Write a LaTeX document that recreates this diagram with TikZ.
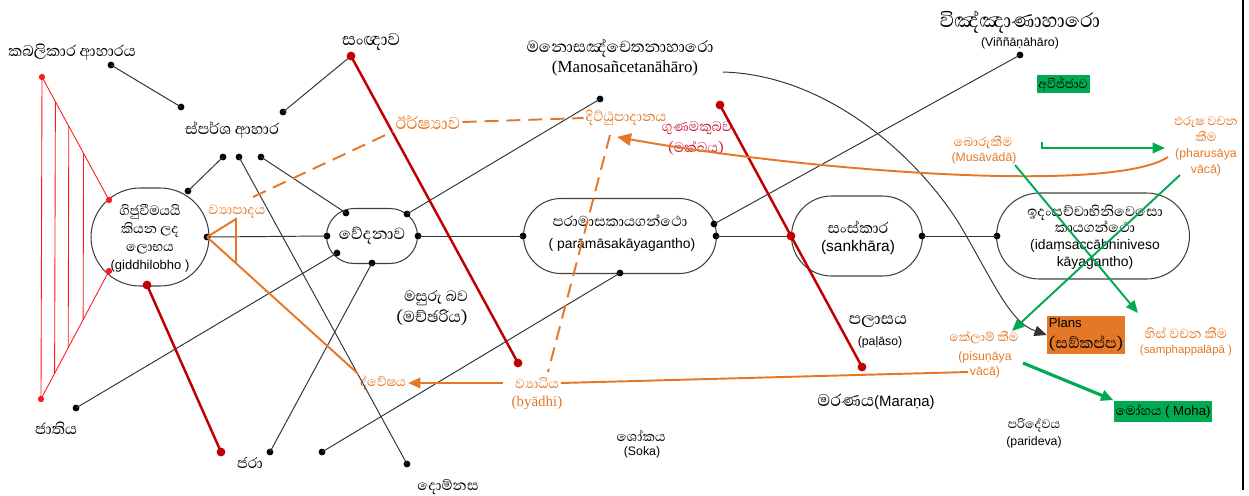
\documentclass[tikz,border=0pt]{standalone}
\usepackage{fontspec}
\setmainfont{Liberation Sans}
\newfontfamily\sinhala[Script=Sinhala]{Abhaya Libre}
\newfontfamily\tms{Liberation Serif}
\usetikzlibrary{shapes.misc,arrows.meta,calc}
\definecolor{orng}{RGB}{228,120,38}
\definecolor{grn}{RGB}{0,170,80}
\definecolor{dred}{RGB}{192,0,0}
\definecolor{crim}{RGB}{205,25,60}
\definecolor{lred}{RGB}{255,25,25}
\newcommand{\sfs}[1]{\sinhala\fontsize{#1}{#1}\selectfont}
\tikzset{
  blob/.style={rounded rectangle, draw=black!75, line width=0.6pt, inner sep=0pt},
  si/.style={font=\sfs{11.2}, inner sep=1pt},
  sio/.style={font=\sfs{9.5}, text=orng, inner sep=1pt},
  la/.style={font=\fontsize{7}{8}\selectfont, inner sep=1pt},
  lao/.style={la, text=orng},
  ln/.style={draw=black!80, line width=0.55pt},
  rln/.style={draw=dred, line width=1.4pt},
  tln/.style={draw=lred, line width=0.5pt},
  oln/.style={draw=orng, line width=1.1pt},
  odash/.style={oln, dash pattern=on 8pt off 4.5pt},
  gln/.style={draw=grn, line width=1.1pt, -{Triangle[length=7pt,width=6pt]}},
  box/.style={inner sep=1pt, minimum height=0.34cm},
}

\begin{document}
\begin{tikzpicture}[x=0.02cm, y=-0.02cm]
\useasboundingbox (0,0) rectangle (1249,495);

% shapes on the middle line
\node[blob, minimum width=2.36cm, minimum height=1.96cm] (gid) at (150,237) {};
\node[blob, minimum width=1.82cm, minimum height=1.10cm] (ved) at (372,236) {};
\node[blob, minimum width=3.86cm, minimum height=1.50cm] (para) at (620,236) {};
\node[blob, minimum width=2.62cm, minimum height=1.60cm] (sank) at (857,236) {};
\node[blob, minimum width=3.86cm, minimum height=1.72cm] (idam) at (1093,236) {};

\node[align=center, inner sep=0pt, font=\sinhala\fontsize{9.8}{10.2}\selectfont] (gidt) at (150,238)
  {ගිජුවීමයයි\\කියන ලද\\ලොභය\\\normalfont\fontsize{7.4}{9}\selectfont(giddhilobho )};
\node[si, font=\sfs{11.7}] (vedt) at (372,236) {වේදනාව};
\node[si, font=\sfs{10.4}] (parat) at (620,221) {පරාමාසකායගන්ථො};
\node[la, font=\fontsize{7.9}{9}\selectfont] (paral) at (622,245) {( parāmāsakāyagantho)};
\node[si, font=\sfs{11}] (sankt) at (858,227) {සංස්කාර};
\node[la, font=\fontsize{8.8}{10}\selectfont] (sankl) at (858,247) {(sankhāra)};
\node[align=center, inner sep=0pt, font=\sinhala\fontsize{10.2}{9.5}\selectfont] (idamt) at (1095,237)
  {ඉදංසච්චාභිනිවෙසො\\කායගන්ථො\\\normalfont\fontsize{7.9}{9.5}\selectfont(idaṃsaccābhiniveso\\\normalfont\fontsize{7.9}{9.5}\selectfont kāyagantho)};

% labels
\node[si] (kab) at (72,52) {කබලිකාර ආහාරය};
\node[si] (spa) at (232,130) {ස්පර්ශ ආහාර};
\node[si, font=\sfs{12.5}] (san) at (371,42) {සංඥාව};
\node[si, font=\sfs{11.7}] (mano) at (620,48) {මනොසඤ්චෙතනාහාරො};
\node[la, font=\tms\fontsize{9.6}{11}\selectfont] (manol) at (625,68) {(Manosañcetanāhāro)};
\node[si, font=\sfs{14.4}] (vin) at (1020,22) {විඤ්ඤාණාහාරො};
\node[la] (vinl) at (1020,43) {(Viññāṇāhāro)};
\node[box, fill=grn, minimum width=1.06cm, font=\sfs{9}] (avi) at (1063,84) {අවිජ්ජාව};
\node[sio, font=\sfs{12.5}] (irs) at (428,122) {ඊර්ෂ්‍යාව};
\node[sio, font=\sfs{10}] (dit) at (626,118) {දිට්ඨුපාදානය};
\node[si, text=crim, font=\sfs{10}] (guna) at (697,128) {ගුණමකුබව};
\node[si, text=crim, font=\sfs{10}] (gunal) at (696,148) {(මක්ඛය)};
\node[sio, font=\sfs{9.3}] (boru) at (983,142) {බොරුකීම};
\node[lao] (borul) at (984,158) {(Musāvādā)};
\node[lao, align=center, font=\fontsize{7}{9.2}\selectfont] (pharu) at (1206,146)
  {{\sfs{9}ඵරුෂ වචන}\\{\sfs{9}කීම}\\(pharusāya\\vācā)};
\node[sio, font=\sfs{9.8}] (vyap) at (237,212) {ව්‍යාපාදය};
\node[si, font=\sfs{10.8}] (masu) at (436,298) {මසුරු බව};
\node[si, font=\sfs{11.5}] (masul) at (432,318) {(මච්ඡරිය)};
\node[si, font=\sfs{12}] (pala) at (878,322) {පලාසය};
\node[la] (palal) at (880,342) {(paḷāso)};
\node[fill=orng, align=left, inner sep=1pt, minimum width=1.54cm, minimum height=0.68cm] (plans) at (1086,335)
  {{\fontsize{7.5}{8}\selectfont Plans}\\{\sfs{11.2}(සඞ්කප්ප)}};
\node[sio, font=\sfs{9.6}] (his) at (1186,333) {හිස් වචන කීම};
\node[lao, font=\fontsize{6.5}{8}\selectfont] (hisl) at (1186,351) {(samphappalāpā )};
\node[sio, font=\sfs{9}] (kel) at (984,338) {කේලාම් කීම};
\node[lao, align=center, font=\fontsize{7}{8.8}\selectfont] (kell) at (985,365) {(pisuṇāya\\vācā)};
\node[sio, font=\sfs{9.4}] (dve) at (383,383) {ද්වේෂය};
\node[si, text=orng, font=\sfs{9.6}] (vya) at (537,383) {ව්‍යාධිය};
\node[lao, font=\tms\fontsize{8.5}{9}\selectfont] (vyal) at (537,403) {(byādhi)};
\node[si, font=\fontsize{8.5}{10}\selectfont] (mara) at (876,402) {{\sfs{12.3}මරණය}(Maraṇa)};
\node[box, fill=grn, minimum width=1.92cm, minimum height=0.42cm, font=\fontsize{7.5}{8}\selectfont] (moha) at (1163,411) {{\sfs{9.5}මෝහය} ( Moha)};
\node[si, font=\sfs{9.8}] (soka) at (641,436) {ශෝකය};
\node[la] (sokal) at (642,452) {(Soka)};
\node[si, font=\sfs{9}] (pari) at (1034,425) {පරිදේවය};
\node[la] (paril) at (1034,442) {(parideva)};
\node[si] (jati) at (56,428) {ජාතිය};
\node[si, font=\sfs{10.8}] (jara) at (250,463) {ජරා};
\node[si, font=\sfs{10.4}] (dom) at (448,487) {දොම්නස};

% black dots
\filldraw[black] (111,65) circle (1.7pt) coordinate (kd);
\filldraw[black] (181,107) circle (1.7pt) coordinate (sd1);
\filldraw[black] (283,112) circle (1.7pt) coordinate (sd2);
\filldraw[black] (223,157) circle (1.7pt) coordinate (p1);
\filldraw[black] (239,157) circle (1.7pt) coordinate (p2);
\filldraw[black] (261,157) circle (1.7pt) coordinate (p3);
\filldraw[black] (188,191) circle (1.7pt) coordinate (g1);
\filldraw[black] (207,237) circle (1.7pt) coordinate (g2);
\filldraw[black] (346,213) circle (1.7pt) coordinate (v1);
\filldraw[black] (407,214) circle (1.7pt) coordinate (v2);
\filldraw[black] (327,236) circle (1.7pt) coordinate (v3);
\filldraw[black] (418,236) circle (1.7pt) coordinate (v4);
\filldraw[black] (337,253) circle (1.7pt) coordinate (v5);
\filldraw[black] (372,263) circle (1.7pt) coordinate (v6);
\filldraw[black] (600,99) circle (1.7pt) coordinate (md);
\filldraw[black] (523,236) circle (1.7pt) coordinate (r1);
\filldraw[black] (714,224) circle (1.7pt) coordinate (r2);
\filldraw[black] (716,236) circle (1.7pt) coordinate (r3);
\filldraw[black] (620,273) circle (1.7pt) coordinate (r4);
\filldraw[black] (1020,55) circle (1.7pt) coordinate (vd);
\filldraw[black] (922,236) circle (1.7pt) coordinate (s2);
\filldraw[black] (997,236) circle (1.7pt) coordinate (i1);
\filldraw[black] (76,408) circle (1.7pt) coordinate (jd);
\filldraw[black] (270,452) circle (1.7pt) coordinate (jrd);
\filldraw[black] (407,464) circle (1.7pt) coordinate (dd);
\filldraw[black] (322,452) circle (1.7pt) coordinate (sd);

% black lines
\draw[ln] (kd) -- (sd1);
\draw[ln] (sd2) -- (351,56) coordinate (sr);
\draw[ln] (p1) -- (g1);
\draw[ln] (p3) -- (v1);
\draw[ln] (p2) -- (dd);
\draw[ln] (g2) -- (v3);
\draw[ln] (v4) -- (r1);
\draw[ln] (r3) -- (791,236) coordinate (s1);
\draw[ln] (s2) -- (i1);
\draw[ln] (v2) -- (md);
\draw[ln] (r2) -- (vd);
\draw[ln] (v5) -- (jd);
\draw[ln] (v6) -- (jrd);
\draw[ln] (r4) -- (sd);
\draw[ln, -{Triangle[length=7pt,width=6pt]}] (723,72) .. controls (830,75) and (920,160) .. (960,225)
  .. controls (995,285) and (1010,322) .. (plans.west);

% red lines
\coordinate (vr) at (518,363);
\coordinate (mr) at (720,105);
\coordinate (pr) at (862,367);
\coordinate (gr) at (147,285);
\coordinate (jr) at (221,452);
\draw[rln] (sr) -- (vr);
\draw[rln] (mr) -- (pr);
\draw[rln] (gr) -- (jr);
\foreach \c in {sr,vr,mr,s1,pr,gr,jr} \fill[dred] (\c) circle (2.5pt);

\coordinate (lr1) at (42,77);
\coordinate (lr2) at (109,200);
\coordinate (lr3) at (109,271);
\coordinate (lr4) at (41,399);
\draw[tln] (lr1) -- (lr2);
\draw[tln] (lr3) -- (lr4);
\draw[tln] (lr1) -- (lr4);
\foreach \t in {0.2,0.4,0.62} \draw[tln] ($(lr1)!\t!(lr2)$) -- ($(lr4)!\t!(lr3)$);
\foreach \c in {lr1,lr2,lr3,lr4} \fill[lred] (\c) circle (1.8pt);

% orange
\draw[oln] (g2) -- (236,219) coordinate (o1) -- (236,262) coordinate (o2);
\draw[oln] (g2) -- (dve.north west);
\draw[oln, -{Triangle[length=7pt,width=6pt]}, shorten <=6pt] (vya.west) -- (dve.east);
\draw[oln] (vya.east) -- (968,372) coordinate (ke);
\draw[odash] (253,197) coordinate (vd1) -- (irs.south west);
\draw[odash] (irs.east) -- (dit.west);
\draw[odash] (610,135) coordinate (dd1) -- (548,372) coordinate (vd2);
\draw[oln, -{Triangle[length=8pt,width=7pt]}] (1168,157) coordinate (ph1) .. controls (1110,195) and (800,170) .. (617,137);

% green
\draw[gln] (1042,142) coordinate (ga) -- (1042,148) -- (1165,148) coordinate (gb);
\draw[gln] (1015,165) coordinate (gc) -- (1138,313) coordinate (gd);
\draw[gln] (1180,175) coordinate (ge) -- (1012,331) coordinate (gf);
\draw[gln, line width=1.8pt] (1023,363) coordinate (gg) -- (moha.north west);

% right border
\draw[line width=1.2pt] (1243,0) -- (1243,490);
\end{tikzpicture}
\end{document}
